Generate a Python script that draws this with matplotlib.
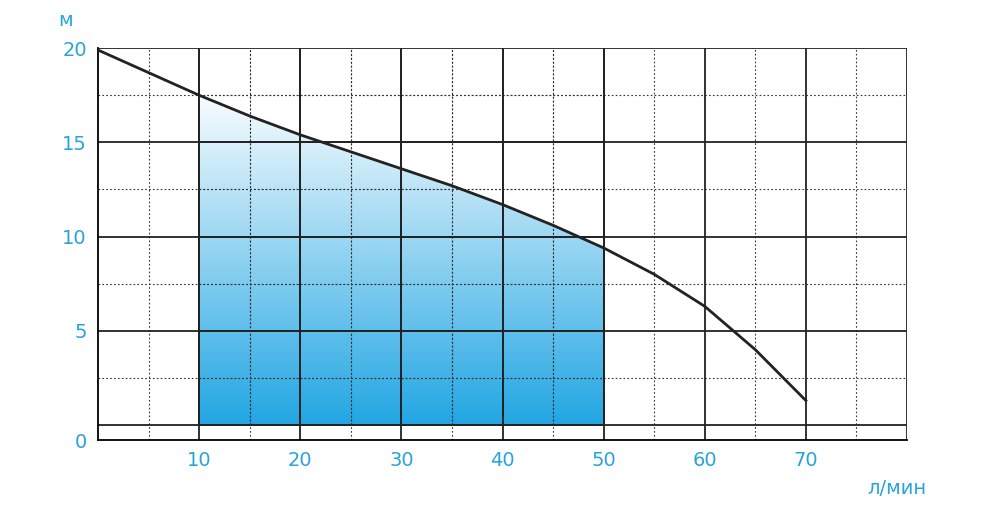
import numpy as np
import matplotlib.pyplot as plt
from matplotlib.colors import LinearSegmentedColormap
from matplotlib.patches import Polygon

# curve
flow = [0, 5, 10, 15, 20, 25, 30, 35, 40, 45, 50, 55, 60, 65, 70]
head = [19.9, 18.7, 17.5, 16.4, 15.4, 14.5, 13.6, 12.7, 11.7, 10.6, 9.4, 8.0, 6.3, 4.0, 1.3]
x_ticks = [10, 20, 30, 40, 50, 60, 70]
y_ticks = [5, 10, 15, 20]
work_from, work_to = 10, 50

blue = '#29a3dc'
fig = plt.figure(figsize=(10, 5.29), dpi=100)
ax = fig.add_axes([0.098, 0.168, 0.809, 0.741])
ymin = -0.8
ax.set_xlim(0, 80)
ax.set_ylim(ymin, 20)

# grid
for x in np.arange(5, 80, 10):
    ax.plot([x, x], [ymin, 20], color='#333333', lw=0.8, ls=(0, (1.5, 2)))
for y in np.arange(2.5, 20, 5):
    ax.plot([0, 80], [y, y], color='#333333', lw=0.8, ls=(0, (1.5, 2)))
for x in range(10, 81, 10):
    ax.plot([x, x], [ymin, 20], color='#222222', lw=1.3)
for y in [0, 5, 10, 15, 20]:
    ax.plot([0, 80], [y, y], color='#222222', lw=1.3)

# gradient fill of working range
xs = np.array(flow, float)
ys = np.array(head, float)
xi = np.linspace(work_from, work_to, 50)
yi = np.interp(xi, xs, ys)
poly = np.vstack([[work_from, 0], np.column_stack([xi, yi]), [work_to, 0]])
patch = Polygon(poly, closed=True, facecolor='none', edgecolor='none')
ax.add_patch(patch)
cmap = LinearSegmentedColormap.from_list('g', ['#ffffff', '#22a6e3'])
grad = np.linspace(0, 1, 256).reshape(-1, 1)
im = ax.imshow(grad, extent=[work_from, work_to, 0, 18], origin='upper',
               cmap=cmap, aspect='auto', zorder=1, alpha=1)
im.set_clip_path(patch)
# redraw grid over fill
for x in np.arange(15, 50, 10):
    ax.plot([x, x], [0, 20], color='#333333', lw=0.8, ls=(0, (1.5, 2)), zorder=2)
for y in np.arange(2.5, 20, 5):
    ax.plot([10, 50], [y, y], color='#333333', lw=0.8, ls=(0, (1.5, 2)), zorder=2)
for x in range(10, 51, 10):
    ax.plot([x, x], [0, 20], color='#222222', lw=1.3, zorder=2)
for y in [0, 5, 10, 15]:
    ax.plot([10, 50], [y, y], color='#222222', lw=1.3, zorder=2)

ax.plot(xs, ys, color='#222222', lw=2, zorder=3)

for s in ['top', 'right']:
    ax.spines[s].set_visible(False)
ax.spines['left'].set_linewidth(1.3)
ax.spines['bottom'].set_linewidth(1.3)
ax.set_xticks(x_ticks)
ax.set_yticks([ymin] + y_ticks)
ax.set_yticklabels(['0'] + [str(v) for v in y_ticks])
ax.tick_params(length=0, labelsize=14, labelcolor=blue, pad=8)
ax.text(-3.2, 21.2, 'м', color=blue, fontsize=14, ha='center')
ax.text(79, -3.35, 'л/мин', color=blue, fontsize=14, ha='center', va='center')

fig.savefig('out.png')
